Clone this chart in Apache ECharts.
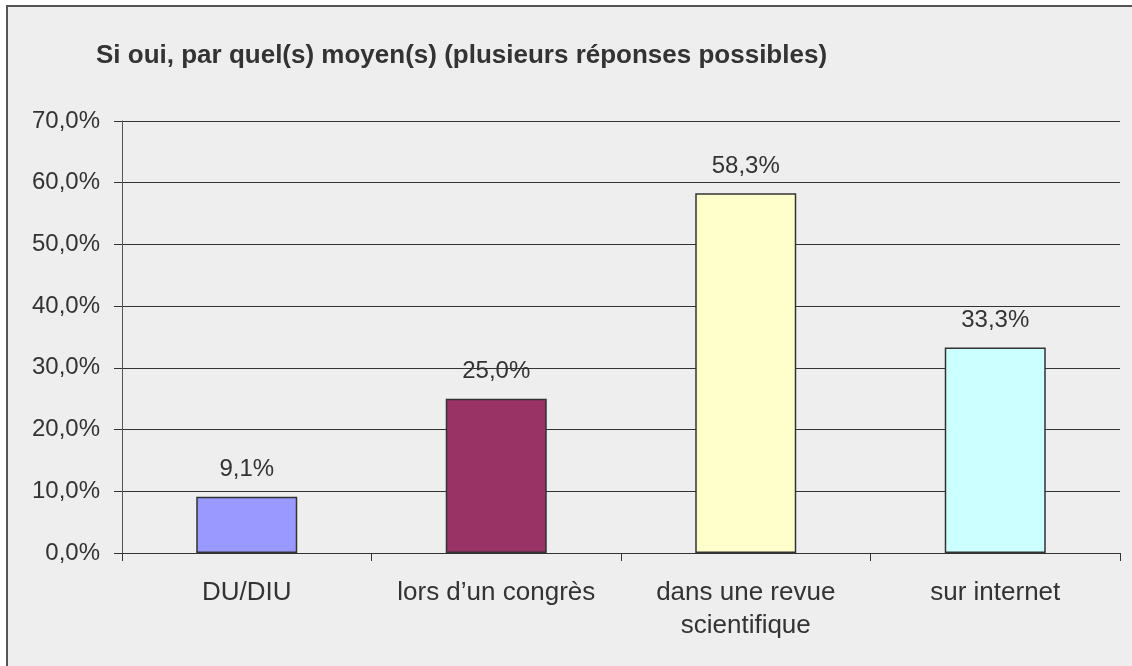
<!DOCTYPE html>
<html>
<head>
<meta charset="utf-8">
<script src="https://cdn.jsdelivr.net/npm/echarts@6/dist/echarts.min.js"></script>
<style>
html, body { margin: 0; padding: 0; background: #fff; }
#chart { width: 1132px; height: 666px; }
</style>
</head>
<body>
<div id="chart"></div>
<script>
var categories = ['DU/DIU', 'lors d\u2019un congrès', 'dans une revue\nscientifique', 'sur internet'];
var values = [9.1, 25.0, 58.3, 33.3];
var barColors = ['#9999FF', '#993366', '#FFFFCC', '#CCFFFF'];
var yTicks = [0, 10, 20, 30, 40, 50, 60, 70];

function pct(v) {
	return v.toFixed(1).replace('.', ',') + '%';
}

var myChart = echarts.init(document.getElementById('chart'));
var option = {
	backgroundColor: '#ffffff',
	textStyle: { fontFamily: 'Liberation Sans, Arial, sans-serif' },
	graphic: [{
		type: 'rect',
		z: -10,
		shape: { x: 7, y: 6, width: 1140, height: 700 },
		style: { fill: '#eeeeee', stroke: '#555555', lineWidth: 2 }
	}],
	title: {
		text: 'Si oui, par quel(s) moyen(s) (plusieurs réponses possibles)',
		left: 91,
		top: 38,
		textStyle: { fontSize: 26, fontWeight: 'bold', color: '#333333', fontFamily: 'Liberation Sans' }
	},
	grid: { left: 122, right: 12, top: 121, bottom: 113, containLabel: false },
	xAxis: {
		type: 'category',
		data: categories,
		axisLine: { lineStyle: { color: '#333333', width: 1 } },
		axisTick: { show: true, interval: 0, length: 8, lineStyle: { color: '#333333' } },
		axisLabel: { interval: 0, hideOverlap: false, color: '#333333', fontSize: 26, margin: 23, lineHeight: 33 }
	},
	yAxis: {
		type: 'value',
		min: yTicks[0],
		max: yTicks[yTicks.length - 1],
		interval: 10,
		axisLine: { show: true, lineStyle: { color: '#555555' } },
		axisTick: { show: true, length: 8, lineStyle: { color: '#333333' } },
		axisLabel: { color: '#333333', fontSize: 24, margin: 22, formatter: function (v) { return pct(v); } },
		splitLine: { lineStyle: { color: '#333333', width: 1 } }
	},
	series: [{
		type: 'bar',
		barWidth: 101,
		data: values.map(function (v, i) {
			return { value: v, itemStyle: { color: barColors[i] } };
		}),
		itemStyle: { borderColor: '#333333', borderWidth: 1.5 },
		label: {
			show: true,
			position: 'top',
			distance: 15,
			color: '#333333',
			fontSize: 24,
			formatter: function (p) { return pct(p.value); }
		}
	}]
};
myChart.setOption(option);
</script>
</body>
</html>
